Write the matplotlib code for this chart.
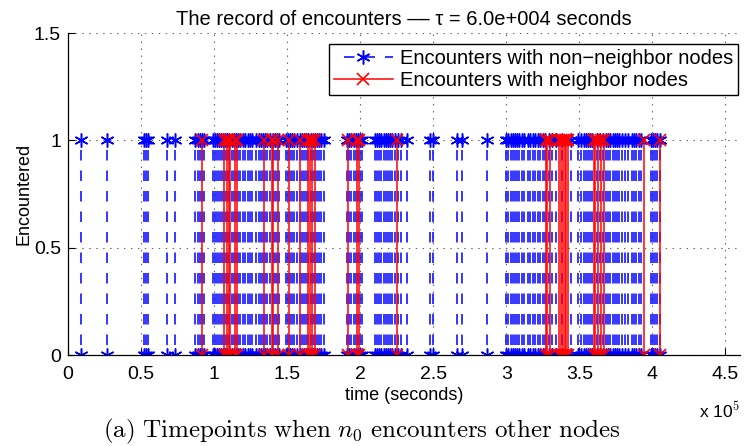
import matplotlib
matplotlib.use("Agg")
import matplotlib.pyplot as plt
from matplotlib.ticker import FuncFormatter

plt.rcParams["font.family"] = ["Liberation Sans", "DejaVu Sans"]
plt.rcParams["mathtext.fontset"] = "cm"
plt.rcParams["lines.scale_dashes"] = False

# Encounter times (seconds) with nodes that are not neighbours
non_neighbor_times = [
    8700, 26500, 52000, 53500, 55000, 67600, 73300, 87000, 89000,
    90500, 91500, 93000,
    99000, 100500, 102000, 103500,
    105000, 106000, 107500, 109000, 110500, 112000, 113500, 115000, 116500, 118000,
    120000, 121500, 123000, 124500, 126000,
    129000, 130500, 132000, 133500, 135000, 136500,
    138500, 140000, 141500, 143000, 144500,
    149000, 150500, 152000, 153500, 155000,
    157000, 158500, 160000, 161500, 163000, 164500, 166000, 167500, 169000,
    170500, 172000, 173500, 175000,
    191000, 192500, 194000, 195500, 197000, 198500, 200000, 201500,
    210000, 211500, 213000, 214500, 216000, 217500, 219000, 220500, 222000,
    224000, 226000, 228000, 232000,
    248000, 250000, 266000, 270000, 287000,
    300000, 301500, 303000, 304500, 306000, 307500, 309000, 310500, 312000,
    315000, 316500, 318000, 320000, 321500, 323000, 325000,
    326500, 329000, 331500, 334000, 338000, 344000,
    349000, 351000,
    353000, 354500, 356000, 357500, 359000, 362000, 364000, 366000, 368000,
    369500, 371000,
    373000, 374500, 376000, 377500, 379000, 381000, 383000,
    386000, 387500, 389000, 391000, 392000,
    399000, 400500, 402000, 403500, 405000,
]

# Encounter times (seconds) with neighbour nodes
neighbor_times = [
    92000, 107000, 108500, 110000, 111000, 114000, 116000,
    134000, 139500, 140500, 144000, 151000, 159000,
    164000, 165500, 167000, 169000,
    192000, 198000, 199000, 225000,
    327000, 328000, 330000, 336000, 337500, 339000, 340000, 341000, 342000,
    360000, 361000, 363000, 365000, 367000,
    394000, 405000,
]

x_ticks = [0, 0.5e5, 1.0e5, 1.5e5, 2.0e5, 2.5e5, 3.0e5, 3.5e5, 4.0e5, 4.5e5]
y_ticks = [0, 0.5, 1, 1.5]

W, H = 745, 446
fig = plt.figure(figsize=(W / 100, H / 100), dpi=100)
ax = fig.add_axes([68 / W, 1 - 355 / H, (740 - 68) / W, (355 - 33) / H])

px = 72 / 100  # points per pixel
dash_style = (10.5 * px, (10.5 * px, 10 * px))
asterisk = (6, 2, 0)

for i, t in enumerate(non_neighbor_times):
    ax.plot([t, t], [1, 0], color="#0000ff", linestyle=dash_style,
            linewidth=1.1, marker=asterisk, markersize=10, markeredgewidth=1.1,
            label="Encounters with non\u2212neighbor nodes" if i == 0 else None,
            zorder=3)

for i, t in enumerate(neighbor_times):
    ax.plot([t, t], [0, 1], color="#ff0000", linestyle="-", linewidth=1.1,
            marker="x", markersize=9, markeredgewidth=1.2,
            label="Encounters with neighbor nodes" if i == 0 else None,
            zorder=4)

ax.set_xlim(0, 4.6e5)
ax.set_ylim(0, 1.5)
ax.set_xticks(x_ticks)
ax.set_yticks(y_ticks)
ax.xaxis.set_major_formatter(FuncFormatter(lambda v, p: "%g" % (v / 1e5)))
ax.yaxis.set_major_formatter(FuncFormatter(lambda v, p: "%g" % v))
ax.tick_params(direction="in", length=5, width=0.8, labelsize=14)
ax.tick_params(axis="x", pad=8)
ax.tick_params(axis="y", pad=5)
ax.grid(True, linestyle=(0, (1, 4)), color="#606060", linewidth=0.8)
ax.set_axisbelow(True)
for side in ("top", "right"):
    ax.spines[side].set_visible(False)
for side in ("left", "bottom"):
    ax.spines[side].set_linewidth(0.9)
    ax.spines[side].set_zorder(5)

ax.set_title("The record of encounters \u2013\u2013 \u03c4 = 6.0e+004 seconds",
             fontsize=14.5, pad=6)
ax.set_xlabel("time (seconds)", fontsize=13, labelpad=3)
ax.set_ylabel("Encountered", fontsize=13, labelpad=1)

leg = ax.legend(loc="upper right", bbox_to_anchor=(0.997, 0.966),
                fontsize=14.5, frameon=True, fancybox=False, framealpha=1,
                edgecolor="black", handlelength=2.9, borderpad=0.25,
                labelspacing=0.15, handletextpad=0.35, borderaxespad=0)
leg.get_frame().set_linewidth(1.0)

fig.text(720 / W, 1 - 411 / H, r"x 10$^{5}$", fontsize=12.5,
         ha="center", va="center")
fig.text(362 / W, 1 - 431 / H,
         r"$\mathrm{(a)\ Timepoints\ when\ }n_0\mathrm{\ encounters\ other\ nodes}$",
         fontsize=18, ha="center", va="center")

fig.savefig("out.png", dpi=100)
